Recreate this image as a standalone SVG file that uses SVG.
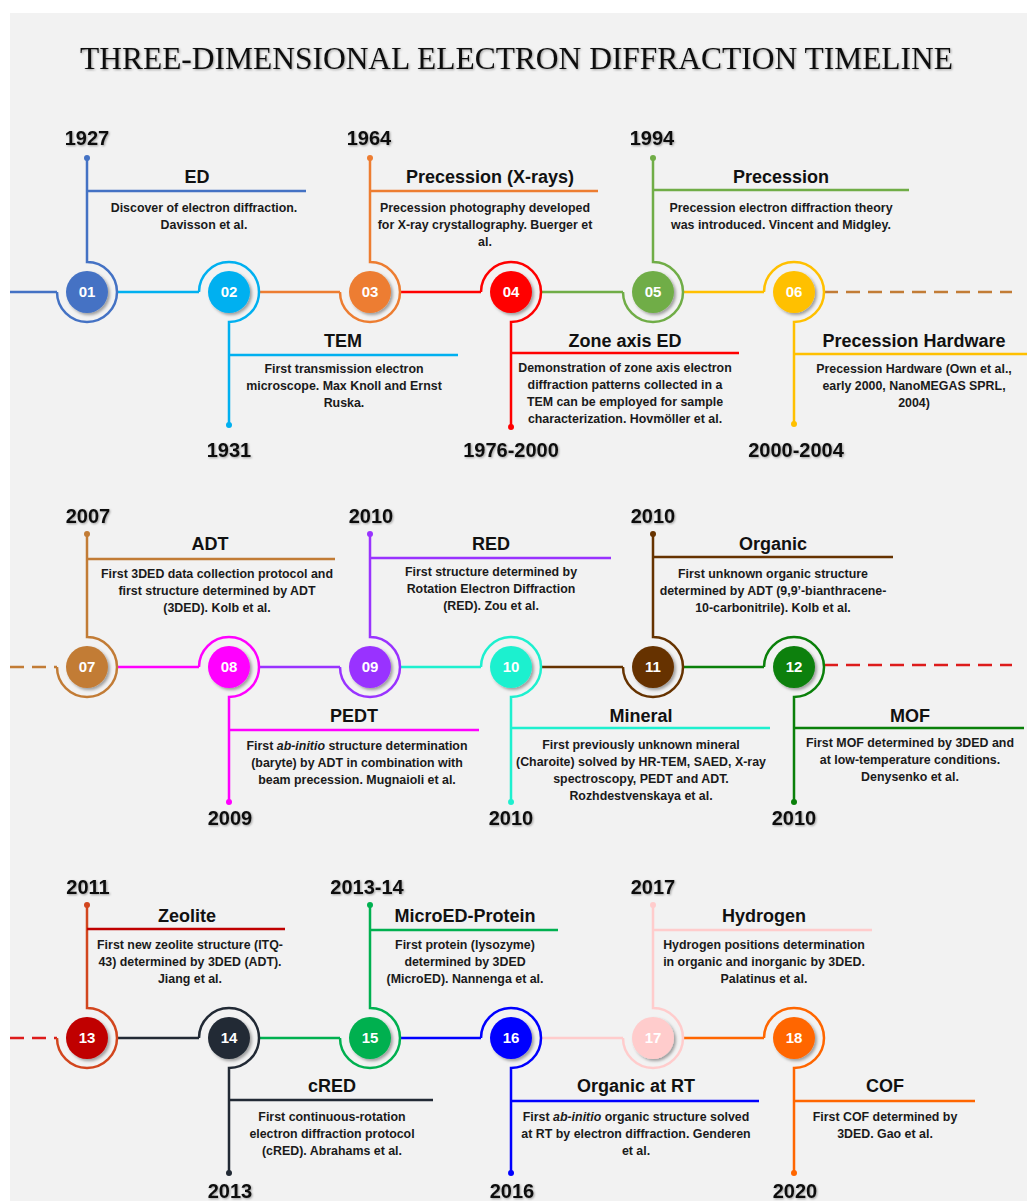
<svg xmlns="http://www.w3.org/2000/svg" width="1027" height="1201" viewBox="0 0 1027 1201">
<defs>
<filter id="sh" x="-50%" y="-50%" width="200%" height="200%"><feDropShadow dx="2" dy="2" stdDeviation="1.8" flood-color="#000" flood-opacity="0.35"/></filter>
<filter id="ts" x="-20%" y="-40%" width="140%" height="180%"><feDropShadow dx="1" dy="1" stdDeviation="1" flood-color="#000" flood-opacity="0.35"/></filter>
<style>
.ln{fill:none;stroke-width:2.5}
.dl{fill:none;stroke-width:2.6;stroke-dasharray:14 8}
.c{filter:url(#sh)}
.num{font-family:"Liberation Sans",Arial,sans-serif;font-weight:bold;font-size:15px;fill:#fff;text-anchor:middle}
.yr{font-family:"Liberation Sans",Arial,sans-serif;font-weight:bold;font-size:20px;fill:#111;text-anchor:middle;filter:url(#ts)}
.tt{font-family:"Liberation Sans",Arial,sans-serif;font-weight:bold;font-size:18px;fill:#111;text-anchor:middle}
.tx{font-family:"Liberation Sans",Arial,sans-serif;font-weight:bold;font-size:12.4px;fill:#1a1a1a;text-anchor:middle}
.title{font-family:"Liberation Serif","Times New Roman",serif;font-size:32px;fill:#111;text-anchor:middle;filter:url(#ts)}
</style>
</defs>
<rect x="0" y="0" width="1027" height="1201" fill="#fff"/>
<rect x="10" y="13" width="1017" height="1188" fill="#f2f2f2"/>
<text class="title" x="516.5" y="69" textLength="873" lengthAdjust="spacingAndGlyphs">THREE-DIMENSIONAL ELECTRON DIFFRACTION TIMELINE</text>

<g id="connectors">
<path class="ln" stroke="#4472C4" d="M10,292H57"/>
<path class="ln" stroke="#00B0F0" d="M117,292H199"/>
<path class="ln" stroke="#ED7D31" d="M259,292H340"/>
<path class="ln" stroke="#FF0000" d="M400,292H481"/>
<path class="ln" stroke="#70AD47" d="M541,292H623"/>
<path class="ln" stroke="#FFC000" d="M683,292H764"/>
<path class="dl" stroke="#C27C36" d="M824,292H1012"/>
<path class="dl" stroke="#C27C36" d="M10,667H57"/>
<path class="ln" stroke="#FF00FF" d="M117,667H199"/>
<path class="ln" stroke="#9933FF" d="M259,667H340"/>
<path class="ln" stroke="#1EF0CF" d="M400,667H481"/>
<path class="ln" stroke="#663300" d="M541,667H623"/>
<path class="ln" stroke="#0A800A" d="M683,667H764"/>
<path class="dl" stroke="#DD1C1C" d="M824,665H1012"/>
<path class="dl" stroke="#DD1C1C" d="M10,1038H57"/>
<path class="ln" stroke="#222A35" d="M117,1038H199"/>
<path class="ln" stroke="#00B050" d="M259,1038H340"/>
<path class="ln" stroke="#0000FF" d="M400,1038H481"/>
<path class="ln" stroke="#FFCCCC" d="M541,1038H623"/>
<path class="ln" stroke="#FF6600" d="M683,1038H764"/>
</g>

<g id="n01">
<path class="ln" stroke="#4472C4" d="M87,158V262A30,30 0 1 1 57,292M87,191H306"/>
<circle cx="87" cy="158" r="3" fill="#4472C4"/>
<circle class="c" cx="87" cy="292" r="21" fill="#4472C4"/>
<text class="num" x="87" y="297">01</text>
<text class="yr" x="87" y="145">1927</text>
<text class="tt" x="197" y="183">ED</text>
<text class="tx"><tspan x="204" y="212">Discover of electron diffraction.</tspan><tspan x="204" y="229">Davisson et al.</tspan></text>
</g>

<g id="n02">
<path class="ln" stroke="#00B0F0" d="M199,292A30,30 0 1 1 229,322V425M229,355H458"/>
<circle cx="229" cy="425" r="3" fill="#00B0F0"/>
<circle class="c" cx="229" cy="292" r="21" fill="#00B0F0"/>
<text class="num" x="229" y="297">02</text>
<text class="yr" x="229" y="457">1931</text>
<text class="tt" x="343" y="347">TEM</text>
<text class="tx"><tspan x="344" y="373">First transmission electron</tspan><tspan x="344" y="390">microscope. Max Knoll and Ernst</tspan><tspan x="344" y="407">Ruska.</tspan></text>
</g>

<g id="n03">
<path class="ln" stroke="#ED7D31" d="M370,158V262A30,30 0 1 1 340,292M370,191H598"/>
<circle cx="370" cy="158" r="3" fill="#ED7D31"/>
<circle class="c" cx="370" cy="292" r="21" fill="#ED7D31"/>
<text class="num" x="370" y="297">03</text>
<text class="yr" x="369" y="145">1964</text>
<text class="tt" x="490" y="183">Precession (X-rays)</text>
<text class="tx"><tspan x="485" y="212">Precession photography developed</tspan><tspan x="485" y="229">for X-ray crystallography. Buerger et</tspan><tspan x="485" y="246">al.</tspan></text>
</g>

<g id="n04">
<path class="ln" stroke="#FF0000" d="M481,292A30,30 0 1 1 511,322V427M511,353H739"/>
<circle cx="511" cy="427" r="3" fill="#FF0000"/>
<circle class="c" cx="511" cy="292" r="21" fill="#FF0000"/>
<text class="num" x="511" y="297">04</text>
<text class="yr" x="511" y="457">1976-2000</text>
<text class="tt" x="625" y="347">Zone axis ED</text>
<text class="tx"><tspan x="625" y="372">Demonstration of zone axis electron</tspan><tspan x="625" y="389">diffraction patterns collected in a</tspan><tspan x="625" y="406">TEM can be employed for sample</tspan><tspan x="625" y="423">characterization. Hovmöller et al.</tspan></text>
</g>

<g id="n05">
<path class="ln" stroke="#70AD47" d="M653,158V262A30,30 0 1 1 623,292M653,190H909"/>
<circle cx="653" cy="158" r="3" fill="#70AD47"/>
<circle class="c" cx="653" cy="292" r="21" fill="#70AD47"/>
<text class="num" x="653" y="297">05</text>
<text class="yr" x="652" y="145">1994</text>
<text class="tt" x="781" y="183">Precession</text>
<text class="tx"><tspan x="781" y="212">Precession electron diffraction theory</tspan><tspan x="781" y="229">was introduced. Vincent and Midgley.</tspan></text>
</g>

<g id="n06">
<path class="ln" stroke="#FFC000" d="M764,292A30,30 0 1 1 794,322V424M794,354H1027"/>
<circle cx="794" cy="424" r="3" fill="#FFC000"/>
<circle class="c" cx="794" cy="292" r="21" fill="#FFC000"/>
<text class="num" x="794" y="297">06</text>
<text class="yr" x="796" y="457">2000-2004</text>
<text class="tt" x="914" y="347">Precession Hardware</text>
<text class="tx"><tspan x="914" y="373">Precession Hardware (Own et al.,</tspan><tspan x="914" y="390">early 2000, NanoMEGAS SPRL,</tspan><tspan x="914" y="407">2004)</tspan></text>
</g>

<g id="n07">
<path class="ln" stroke="#C27C36" d="M87,534V637A30,30 0 1 1 57,667M87,559H335"/>
<circle cx="87" cy="534" r="3" fill="#C27C36"/>
<circle class="c" cx="87" cy="667" r="21" fill="#C27C36"/>
<text class="num" x="87" y="672">07</text>
<text class="yr" x="88" y="523">2007</text>
<text class="tt" x="210" y="550">ADT</text>
<text class="tx"><tspan x="217" y="578">First 3DED data collection protocol and</tspan><tspan x="217" y="595">first structure determined by ADT</tspan><tspan x="217" y="612">(3DED). Kolb et al.</tspan></text>
</g>

<g id="n08">
<path class="ln" stroke="#FF00FF" d="M199,667A30,30 0 1 1 229,697V802M229,730H479"/>
<circle cx="229" cy="802" r="3" fill="#FF00FF"/>
<circle class="c" cx="229" cy="667" r="21" fill="#FF00FF"/>
<text class="num" x="229" y="672">08</text>
<text class="yr" x="230" y="825">2009</text>
<text class="tt" x="354" y="722">PEDT</text>
<text class="tx"><tspan x="357" y="750">First <tspan font-style="italic">ab-initio</tspan> structure determination</tspan><tspan x="357" y="767">(baryte) by ADT in combination with</tspan><tspan x="357" y="784">beam precession. Mugnaioli et al.</tspan></text>
</g>

<g id="n09">
<path class="ln" stroke="#9933FF" d="M370,534V637A30,30 0 1 1 340,667M370,558H611"/>
<circle cx="370" cy="534" r="3" fill="#9933FF"/>
<circle class="c" cx="370" cy="667" r="21" fill="#9933FF"/>
<text class="num" x="370" y="672">09</text>
<text class="yr" x="371" y="523">2010</text>
<text class="tt" x="491" y="550">RED</text>
<text class="tx"><tspan x="491" y="576">First structure determined by</tspan><tspan x="491" y="593">Rotation Electron Diffraction</tspan><tspan x="491" y="610">(RED). Zou et al.</tspan></text>
</g>

<g id="n10">
<path class="ln" stroke="#1EF0CF" d="M481,667A30,30 0 1 1 511,697V802M511,728H770"/>
<circle cx="511" cy="802" r="3" fill="#1EF0CF"/>
<circle class="c" cx="511" cy="667" r="21" fill="#1EF0CF"/>
<text class="num" x="511" y="672">10</text>
<text class="yr" x="511" y="825">2010</text>
<text class="tt" x="641" y="722">Mineral</text>
<text class="tx"><tspan x="641" y="749">First previously unknown mineral</tspan><tspan x="641" y="766">(Charoite) solved by HR-TEM, SAED, X-ray</tspan><tspan x="641" y="783">spectroscopy, PEDT and ADT.</tspan><tspan x="641" y="800">Rozhdestvenskaya et al.</tspan></text>
</g>

<g id="n11">
<path class="ln" stroke="#663300" d="M653,534V637A30,30 0 1 1 623,667M653,557H893"/>
<circle cx="653" cy="534" r="3" fill="#663300"/>
<circle class="c" cx="653" cy="667" r="21" fill="#663300"/>
<text class="num" x="653" y="672">11</text>
<text class="yr" x="653" y="523">2010</text>
<text class="tt" x="773" y="550">Organic</text>
<text class="tx"><tspan x="773" y="578">First unknown organic structure</tspan><tspan x="773" y="595">determined by ADT (9,9’-bianthracene-</tspan><tspan x="773" y="612">10-carbonitrile). Kolb et al.</tspan></text>
</g>

<g id="n12">
<path class="ln" stroke="#0A800A" d="M764,667A30,30 0 1 1 794,697V802M794,728H1024"/>
<circle cx="794" cy="802" r="3" fill="#0A800A"/>
<circle class="c" cx="794" cy="667" r="21" fill="#0A800A"/>
<text class="num" x="794" y="672">12</text>
<text class="yr" x="794" y="825">2010</text>
<text class="tt" x="910" y="722">MOF</text>
<text class="tx"><tspan x="910" y="747">First MOF determined by 3DED and</tspan><tspan x="910" y="764">at low-temperature conditions.</tspan><tspan x="910" y="781">Denysenko et al.</tspan></text>
</g>

<g id="n13">
<path class="ln" stroke="#D2461E" d="M87,905V1008A30,30 0 1 1 57,1038"/>
<path class="ln" stroke="#C00000" d="M87,929H285"/>
<circle cx="87" cy="905" r="3" fill="#D2461E"/>
<circle class="c" cx="87" cy="1038" r="21" fill="#C00000"/>
<text class="num" x="87" y="1043">13</text>
<text class="yr" x="88" y="894">2011</text>
<text class="tt" x="187" y="922">Zeolite</text>
<text class="tx"><tspan x="190" y="949">First new zeolite structure (ITQ-</tspan><tspan x="190" y="966">43) determined by 3DED (ADT).</tspan><tspan x="190" y="983">Jiang et al.</tspan></text>
</g>

<g id="n14">
<path class="ln" stroke="#222A35" d="M199,1038A30,30 0 1 1 229,1068V1173M229,1100H433"/>
<circle cx="229" cy="1173" r="3" fill="#222A35"/>
<circle class="c" cx="229" cy="1038" r="21" fill="#222A35"/>
<text class="num" x="229" y="1043">14</text>
<text class="yr" x="230" y="1198">2013</text>
<text class="tt" x="332" y="1092">cRED</text>
<text class="tx"><tspan x="332" y="1121">First continuous-rotation</tspan><tspan x="332" y="1138">electron diffraction protocol</tspan><tspan x="332" y="1155">(cRED). Abrahams et al.</tspan></text>
</g>

<g id="n15">
<path class="ln" stroke="#00B050" d="M370,905V1008A30,30 0 1 1 340,1038M370,930H558"/>
<circle cx="370" cy="905" r="3" fill="#00B050"/>
<circle class="c" cx="370" cy="1038" r="21" fill="#00B050"/>
<text class="num" x="370" y="1043">15</text>
<text class="yr" x="367" y="894">2013-14</text>
<text class="tt" x="465" y="922">MicroED-Protein</text>
<text class="tx"><tspan x="465" y="949">First protein (lysozyme)</tspan><tspan x="465" y="966">determined by 3DED</tspan><tspan x="465" y="983">(MicroED). Nannenga et al.</tspan></text>
</g>

<g id="n16">
<path class="ln" stroke="#0000FF" d="M481,1038A30,30 0 1 1 511,1068V1173M511,1101H759"/>
<circle cx="511" cy="1173" r="3" fill="#0000FF"/>
<circle class="c" cx="511" cy="1038" r="21" fill="#0000FF"/>
<text class="num" x="511" y="1043">16</text>
<text class="yr" x="512" y="1198">2016</text>
<text class="tt" x="636" y="1092">Organic at RT</text>
<text class="tx"><tspan x="636" y="1121">First <tspan font-style="italic">ab-initio</tspan> organic structure solved</tspan><tspan x="636" y="1138">at RT by electron diffraction. Genderen</tspan><tspan x="636" y="1155">et al.</tspan></text>
</g>

<g id="n17">
<path class="ln" stroke="#FFCCCC" d="M653,905V1008A30,30 0 1 1 623,1038M653,930H872"/>
<circle cx="653" cy="905" r="3" fill="#FFCCCC"/>
<circle class="c" cx="653" cy="1038" r="21" fill="#FFCCCC"/>
<text class="num" x="653" y="1043">17</text>
<text class="yr" x="653" y="894">2017</text>
<text class="tt" x="764" y="922">Hydrogen</text>
<text class="tx"><tspan x="764" y="949">Hydrogen positions determination</tspan><tspan x="764" y="966">in organic and inorganic by 3DED.</tspan><tspan x="764" y="983">Palatinus et al.</tspan></text>
</g>

<g id="n18">
<path class="ln" stroke="#FF6600" d="M764,1038A30,30 0 1 1 794,1068V1173M794,1101H975"/>
<circle cx="794" cy="1173" r="3" fill="#FF6600"/>
<circle class="c" cx="794" cy="1038" r="21" fill="#FF6600"/>
<text class="num" x="794" y="1043">18</text>
<text class="yr" x="795" y="1198">2020</text>
<text class="tt" x="885" y="1092">COF</text>
<text class="tx"><tspan x="885" y="1121">First COF determined by</tspan><tspan x="885" y="1138">3DED. Gao et al.</tspan></text>
</g>
</svg>
